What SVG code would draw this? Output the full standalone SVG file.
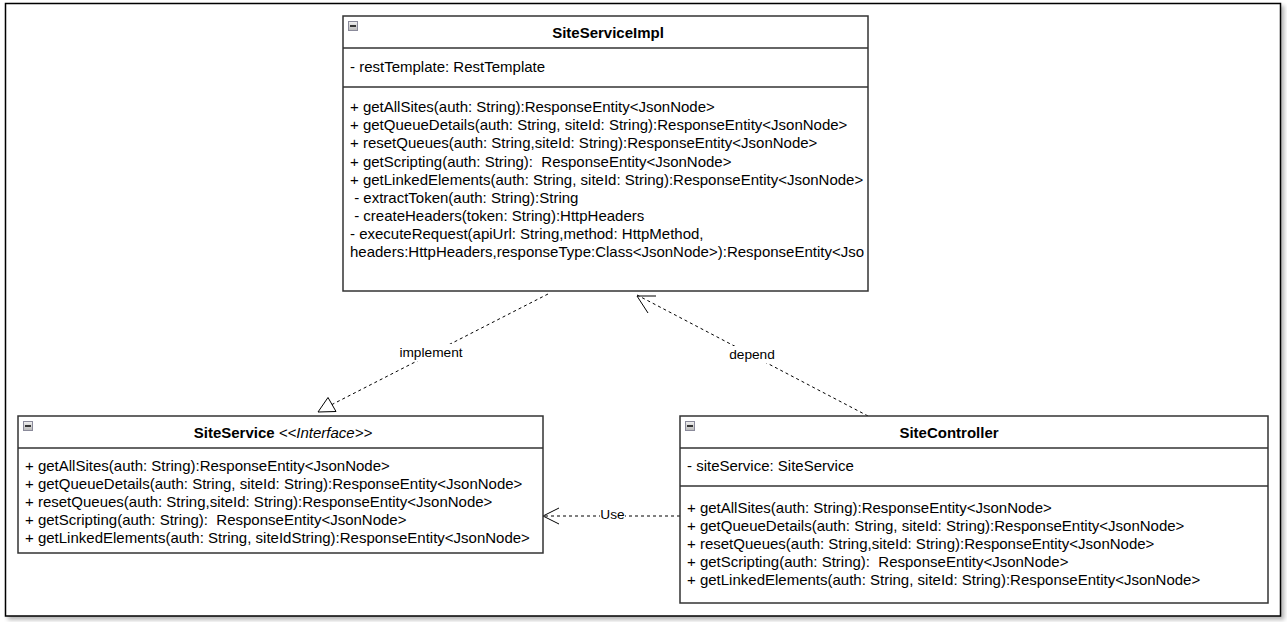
<svg xmlns="http://www.w3.org/2000/svg" width="1287" height="622" viewBox="0 0 1287 622">
  <style>
    .box { fill: #ffffff; stroke: #333333; stroke-width: 1.5; }
    .sep { stroke: #333333; stroke-width: 1.5; }
    .t { font-family: "Liberation Sans", Arial, sans-serif; font-size: 15px; fill: #000000; }
    .title { font-family: "Liberation Sans", Arial, sans-serif; font-size: 15px; font-weight: bold; fill: #000000; }
    .lbl { font-family: "Liberation Sans", Arial, sans-serif; font-size: 13.7px; fill: #000000; text-anchor: middle; }
    .edge { fill: none; stroke: #000000; stroke-width: 1; stroke-dasharray: 3 3; }
    .head { fill: none; stroke: #000000; stroke-width: 1; }
  </style>
  <defs>
    <linearGradient id="iconFill" x1="0" y1="0" x2="0" y2="1">
      <stop offset="0" stop-color="#f2f2f2"/>
      <stop offset="1" stop-color="#b8b8b8"/>
    </linearGradient>
    <g id="collapse">
      <rect x="0.5" y="0.5" width="9" height="9" fill="url(#iconFill)" stroke="#8a8a9a" stroke-width="1"/>
      <line x1="2" y1="5" x2="8" y2="5" stroke="#000000" stroke-width="1.5"/>
    </g>
    <filter id="shadow" x="-5%" y="-5%" width="110%" height="110%">
      <feGaussianBlur in="SourceAlpha" stdDeviation="2"/>
      <feOffset dx="3" dy="3"/>
      <feComponentTransfer><feFuncA type="linear" slope="0.3"/></feComponentTransfer>
      <feMerge><feMergeNode/><feMergeNode in="SourceGraphic"/></feMerge>
    </filter>
    <clipPath id="implClip">
      <rect x="343" y="16" width="521" height="275"/>
    </clipPath>
  </defs>

  <rect width="1287" height="622" fill="#ffffff"/>

  <!-- outer frame -->
  <rect x="5.5" y="3.5" width="1275" height="612.5" fill="#ffffff" stroke="#000000" stroke-width="1.5" filter="url(#shadow)"/>

  <!-- connectors -->
  <g id="connectors">
    <!-- SiteServiceImpl realizes SiteService -->
    <line class="edge" x1="548" y1="294" x2="332" y2="404.5"/>
    <polygon class="head" points="318,412 336,411.5 328,397.5"/>
    <rect x="398" y="344" width="67" height="17" fill="#ffffff"/>
    <text class="lbl" x="431" y="357">implement</text>

    <!-- SiteController depends on SiteServiceImpl -->
    <line class="edge" x1="868" y1="416" x2="637" y2="295"/>
    <polyline class="head" points="648,313 637,296 656,296"/>
    <rect x="727" y="346" width="50" height="17" fill="#ffffff"/>
    <text class="lbl" x="752" y="359">depend</text>

    <!-- SiteController uses SiteService -->
    <line class="edge" x1="680" y1="516" x2="543" y2="516"/>
    <polyline class="head" points="559,508 543,516 559,524"/>
    <rect x="600" y="507" width="25" height="15" fill="#ffffff"/>
    <text class="lbl" x="612.5" y="519">Use</text>
  </g>

  <!-- SiteServiceImpl -->
  <g id="SiteServiceImpl">
    <rect class="box" x="343" y="16" width="525" height="275"/>
    <line class="sep" x1="343" y1="48" x2="868" y2="48"/>
    <line class="sep" x1="343" y1="87" x2="868" y2="87"/>
    <use href="#collapse" x="348" y="21"/>
    <text class="title" x="608" y="38" text-anchor="middle">SiteServiceImpl</text>
    <text class="t" x="350" y="71.5">- restTemplate: RestTemplate</text>
    <g clip-path="url(#implClip)">
      <text class="t" x="350" y="112">+ getAllSites(auth: String):ResponseEntity&lt;JsonNode&gt;</text>
      <text class="t" x="350" y="130">+ getQueueDetails(auth: String, siteId: String):ResponseEntity&lt;JsonNode&gt;</text>
      <text class="t" x="350" y="148">+ resetQueues(auth: String,siteId: String):ResponseEntity&lt;JsonNode&gt;</text>
      <text class="t" x="350" y="166.5" xml:space="preserve">+ getScripting(auth: String):  ResponseEntity&lt;JsonNode&gt;</text>
      <text class="t" x="350" y="185">+ getLinkedElements(auth: String, siteId: String):ResponseEntity&lt;JsonNode&gt;</text>
      <text class="t" x="350" y="203" xml:space="preserve"> - extractToken(auth: String):String</text>
      <text class="t" x="350" y="221" xml:space="preserve"> - createHeaders(token: String):HttpHeaders</text>
      <text class="t" x="350" y="238.5">- executeRequest(apiUrl: String,method: HttpMethod,</text>
      <text class="t" x="350" y="256.5">headers:HttpHeaders,responseType:Class&lt;JsonNode&gt;):ResponseEntity&lt;JsonNode&gt;</text>
    </g>
  </g>

  <!-- SiteService interface -->
  <g id="SiteService">
    <rect class="box" x="18" y="416" width="525" height="137"/>
    <line class="sep" x1="18" y1="448" x2="543" y2="448"/>
    <use href="#collapse" x="23" y="421"/>
    <text class="t" x="283" y="438" text-anchor="middle"><tspan font-weight="bold">SiteService</tspan> <tspan font-style="italic">&lt;&lt;Interface&gt;&gt;</tspan></text>
    <text class="t" x="25" y="470.5">+ getAllSites(auth: String):ResponseEntity&lt;JsonNode&gt;</text>
    <text class="t" x="25" y="488.5">+ getQueueDetails(auth: String, siteId: String):ResponseEntity&lt;JsonNode&gt;</text>
    <text class="t" x="25" y="506.5">+ resetQueues(auth: String,siteId: String):ResponseEntity&lt;JsonNode&gt;</text>
    <text class="t" x="25" y="524.5" xml:space="preserve">+ getScripting(auth: String):  ResponseEntity&lt;JsonNode&gt;</text>
    <text class="t" x="25" y="542.5">+ getLinkedElements(auth: String, siteIdString):ResponseEntity&lt;JsonNode&gt;</text>
  </g>

  <!-- SiteController -->
  <g id="SiteController">
    <rect class="box" x="680" y="416" width="588" height="187"/>
    <line class="sep" x1="680" y1="448" x2="1268" y2="448"/>
    <line class="sep" x1="680" y1="486" x2="1268" y2="486"/>
    <use href="#collapse" x="685" y="421"/>
    <text class="title" x="949" y="438" text-anchor="middle">SiteController</text>
    <text class="t" x="687" y="471">- siteService: SiteService</text>
    <text class="t" x="687" y="513">+ getAllSites(auth: String):ResponseEntity&lt;JsonNode&gt;</text>
    <text class="t" x="687" y="531">+ getQueueDetails(auth: String, siteId: String):ResponseEntity&lt;JsonNode&gt;</text>
    <text class="t" x="687" y="549">+ resetQueues(auth: String,siteId: String):ResponseEntity&lt;JsonNode&gt;</text>
    <text class="t" x="687" y="567" xml:space="preserve">+ getScripting(auth: String):  ResponseEntity&lt;JsonNode&gt;</text>
    <text class="t" x="687" y="585">+ getLinkedElements(auth: String, siteId: String):ResponseEntity&lt;JsonNode&gt;</text>
  </g>
</svg>
